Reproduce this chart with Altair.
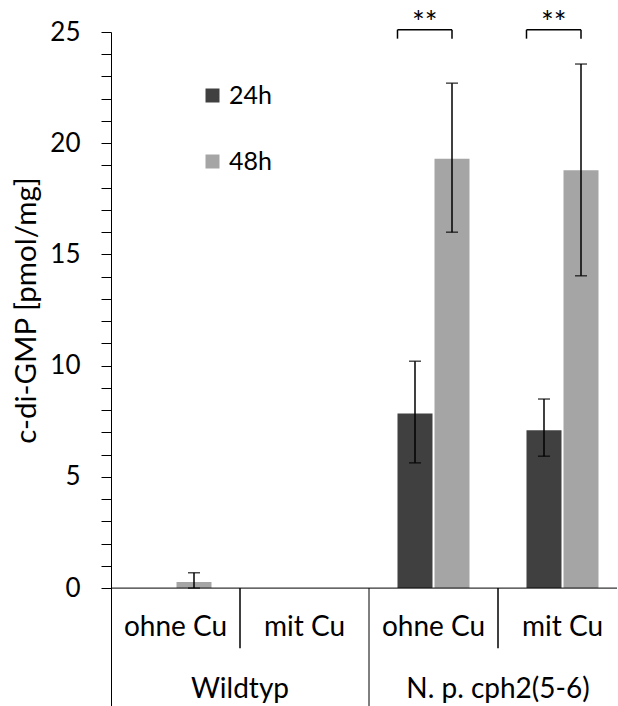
import altair as alt
import pandas as pd

# ---- data ----
groups = ["WT_ohne", "WT_mit", "cph_ohne", "cph_mit"]
group_labels = ["ohne Cu", "mit Cu", "ohne Cu", "mit Cu"]
times = ["24h", "48h"]
val_24h = [0.0, 0.0, 7.85, 7.1]
val_48h = [0.27, 0.0, 19.3, 18.78]
err_lo_24h = [None, None, 5.63, 5.93]
err_hi_24h = [None, None, 10.2, 8.5]
err_lo_48h = [0.0, None, 16.0, 14.04]
err_hi_48h = [0.69, None, 22.7, 23.56]
strain_labels = ["Wildtyp", "N. p. cph2(5-6)"]
strain_anchor = ["WT_mit", "cph_mit"]      # strain label sits on boundary before this group
short_sep = ["WT_mit", "cph_mit"]          # short separators (within strain)
long_sep = ["cph_ohne"]                    # long separator (between strains)
sig_groups = ["cph_ohne", "cph_mit"]
sig_labels = ["**", "**"]

FONT = "Lato"
DARK = "#404040"
LIGHT = "#A5A5A5"
FS_TICK, FS_TITLE, FS_CAT, FS_LEG, FS_STAR = 26, 29.5, 28, 25, 30

# ---- tables ----
rows = []
for i, g in enumerate(groups):
    rows.append(dict(group=g, time="24h", value=val_24h[i], lo=err_lo_24h[i], hi=err_hi_24h[i]))
    rows.append(dict(group=g, time="48h", value=val_48h[i], lo=err_lo_48h[i], hi=err_hi_48h[i]))
df = pd.DataFrame(rows)
err = df.dropna(subset=["lo", "hi"])

lab1 = pd.DataFrame(dict(group=groups, label=group_labels))
lab2 = pd.DataFrame(dict(group=strain_anchor, label=strain_labels))
sep_s = pd.DataFrame(dict(group=short_sep))
sep_l = pd.DataFrame(dict(group=long_sep))
sig = pd.DataFrame(dict(group=sig_groups, label=sig_labels))

Y_MIN, Y_MAX = -5.3, 25
L1_Y, L2_Y, SHORT_Y = -1.8, -4.6, -2.7
BR_TOP, BR_BOT, STAR_Y = 25.1, 24.7, 25.35

# offset band parameters
PI, PO = 0.054, 0.77
step = 1 / (2 - PI + 2 * PO)
start = (1 - step * (2 - PI)) / 2
b_left = start
b_right = start + step + step * (1 - PI) / 2
b_mid = (b_left + b_right) / 2

W = 506
xscale = alt.Scale(domain=groups, range=[0, 516], paddingInner=0, paddingOuter=0)
yscale = alt.Scale(domain=[Y_MIN, Y_MAX], nice=False, zero=False)
xoff_scale = alt.Scale(domain=times, paddingInner=PI, paddingOuter=PO)

yaxis = alt.Axis(
    values=list(range(0, 26)),
    labelExpr="datum.value % 5 == 0 ? datum.label : ''",
    labelOverlap=False,
    grid=False, tickSize=10, tickColor="black", domainColor="black",
    labelPadding=21, labelFontSize=FS_TICK, labelColor="black", labelFont=FONT,
    title="c-di-GMP [pmol/mg]", titleFontSize=FS_TITLE, titleFont=FONT,
    titleFontWeight="normal", titleColor="black",
    titleX=-85, titleY=278, titleAngle=-90, titleAlign="center", titleBaseline="middle",
    tickWidth=1, domainWidth=1,
)


def X(**kw):
    return alt.X("group:N", scale=xscale, axis=None, **kw)


def Y(field):
    return alt.Y(field, scale=yscale, axis=yaxis)


def YD(v):
    return alt.datum(v, scale=yscale, axis=yaxis)


bars = alt.Chart(df).mark_bar(clip=False).encode(
    x=X(),
    xOffset=alt.XOffset("time:N", scale=xoff_scale),
    y=Y("value:Q"),
    color=alt.Color(
        "time:N",
        scale=alt.Scale(domain=times, range=[DARK, LIGHT]),
        legend=alt.Legend(
            title=None, orient="none", legendX=89, legendY=51,
            symbolType="square", symbolSize=196, symbolStrokeWidth=0,
            labelFontSize=FS_LEG, labelFont=FONT, labelColor="black",
            labelOffset=4, rowPadding=40, padding=0,
        ),
    ),
)

err_rule = alt.Chart(err).mark_rule(color="black", strokeWidth=1.5).encode(
    x=X(), xOffset=alt.XOffset("time:N", scale=xoff_scale),
    y=Y("lo:Q"), y2="hi:Q",
)
cap_hi = alt.Chart(err).mark_tick(color="black", orient="horizontal", size=12, thickness=1.5).encode(
    x=X(), xOffset=alt.XOffset("time:N", scale=xoff_scale), y=Y("hi:Q"),
)
cap_lo = alt.Chart(err).mark_tick(color="black", orient="horizontal", size=12, thickness=1.5).encode(
    x=X(), xOffset=alt.XOffset("time:N", scale=xoff_scale), y=Y("lo:Q"),
)

base_axis = alt.Chart(pd.DataFrame(dict(v=[0]))).mark_rule(color="black", strokeWidth=1).encode(
    y=Y("v:Q")
)

seps_short = alt.Chart(sep_s).mark_rule(color="black", strokeWidth=1.5).encode(
    x=X(bandPosition=0), y=YD(0), y2=alt.datum(SHORT_Y),
)
seps_long = alt.Chart(sep_l).mark_rule(color="black", strokeWidth=1).encode(
    x=X(bandPosition=0), y=YD(0), y2=alt.datum(Y_MIN),
)

text1 = alt.Chart(lab1).mark_text(fontSize=FS_CAT, font=FONT, color="black", baseline="middle").encode(
    x=X(), y=YD(L1_Y), text="label:N",
)
text2 = alt.Chart(lab2).mark_text(fontSize=FS_CAT, font=FONT, color="black", baseline="middle").encode(
    x=X(bandPosition=0), y=YD(L2_Y), text="label:N",
)

br_h = alt.Chart(sig).mark_rule(color="black", strokeWidth=1.5).encode(
    x=X(bandPosition=b_left), x2=alt.X2("group", bandPosition=b_right),
    y=YD(BR_TOP),
)
br_l = alt.Chart(sig).mark_rule(color="black", strokeWidth=1.5).encode(
    x=X(bandPosition=b_left), y=YD(BR_TOP), y2=alt.datum(BR_BOT),
)
br_r = alt.Chart(sig).mark_rule(color="black", strokeWidth=1.5).encode(
    x=X(bandPosition=b_right), y=YD(BR_TOP), y2=alt.datum(BR_BOT),
)
stars = alt.Chart(sig).mark_text(fontSize=FS_STAR, font=FONT, color="black", baseline="middle").encode(
    x=X(bandPosition=b_mid), y=YD(STAR_Y), text="label:N",
)

chart = alt.layer(
    bars, err_rule, cap_hi, cap_lo, base_axis, seps_short, seps_long, text1, text2,
    br_h, br_l, br_r, stars,
).properties(
    width=W, height=674,
    autosize=alt.AutoSizeParams(type="none"),
    padding={"left": 111, "top": 32, "right": 1, "bottom": 0},
).configure(
    background="white",
    view=alt.ViewConfig(stroke=None),
    axis=alt.AxisConfig(labelOverlap=False),
)

chart.save("out.html", embed_options={"renderer": "svg", "actions": False})
